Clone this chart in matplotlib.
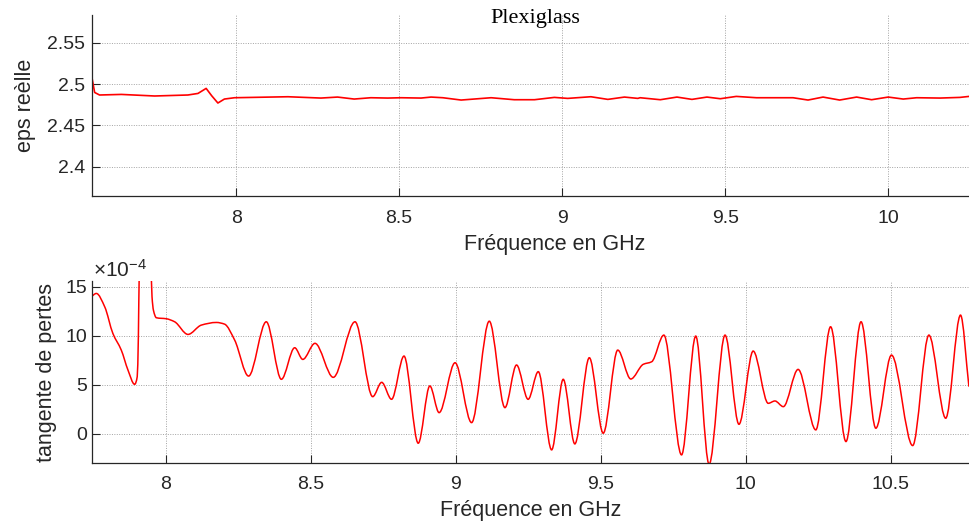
import numpy as np
import matplotlib
matplotlib.use("Agg")
import matplotlib.pyplot as plt
from matplotlib.path import Path
from matplotlib.patches import PathPatch

plt.rcParams['font.family'] = ['Liberation Sans', 'DejaVu Sans']
plt.rcParams['mathtext.fontset'] = 'custom'
plt.rcParams['mathtext.rm'] = 'Liberation Sans'
plt.rcParams['mathtext.it'] = 'Liberation Sans'

# ---------------- data ----------------
eps_freq = [7.554, 7.566, 7.581, 7.648, 7.750, 7.852, 7.883, 7.908, 7.925, 7.944,
            7.964, 7.995, 8.159, 8.260, 8.311, 8.362, 8.413, 8.465, 8.506, 8.567,
            8.598, 8.634, 8.690, 8.782, 8.853, 8.915, 8.976, 9.017, 9.088, 9.140,
            9.191, 9.232, 9.239, 9.301, 9.352, 9.398, 9.444, 9.485, 9.534, 9.596,
            9.708, 9.754, 9.800, 9.851, 9.903, 9.949, 10.000, 10.046, 10.087, 10.159,
            10.220, 10.248, 10.300, 10.400]
eps_real = [2.5160, 2.4898, 2.4867, 2.4874, 2.4855, 2.4867, 2.4886, 2.4947, 2.4858, 2.4770,
            2.4818, 2.4834, 2.4846, 2.4830, 2.4842, 2.4818, 2.4834, 2.4830, 2.4834, 2.4830,
            2.4842, 2.4834, 2.4806, 2.4834, 2.4810, 2.4810, 2.4838, 2.4826, 2.4846, 2.4814,
            2.4842, 2.4826, 2.4834, 2.4810, 2.4842, 2.4814, 2.4842, 2.4822, 2.4850, 2.4834,
            2.4834, 2.4806, 2.4842, 2.4806, 2.4842, 2.4810, 2.4842, 2.4818, 2.4834, 2.4830,
            2.4838, 2.4850, 2.4845, 2.4848]

tan_freq = [7.743, 7.761, 7.790, 7.818, 7.847, 7.870, 7.893, 7.902, 7.906, 7.909,
            7.930, 7.950, 7.953, 7.958, 7.968, 8.002, 8.031, 8.077, 8.123, 8.175,
            8.203, 8.238, 8.286, 8.347, 8.399, 8.445, 8.473, 8.515, 8.578, 8.653,
            8.714, 8.745, 8.779, 8.822, 8.871, 8.911, 8.943, 8.998, 9.055, 9.116,
            9.170, 9.210, 9.250, 9.285, 9.331, 9.371, 9.411, 9.461, 9.509, 9.559,
            9.604, 9.647, 9.676, 9.718, 9.779, 9.828, 9.874, 9.929, 9.977, 10.026,
            10.078, 10.101, 10.130, 10.181, 10.242, 10.293, 10.346, 10.398, 10.449, 10.503,
            10.576, 10.632, 10.690, 10.741, 10.770]
tan_loss = [13.98, 14.33, 12.96, 10.25, 8.55, 6.52, 5.06, 5.84, 10.0, 16.5,
            24.0, 16.5, 14.0, 12.6, 11.85, 11.75, 11.44, 10.15, 11.10, 11.37,
            11.20, 9.57, 5.90, 11.44, 5.57, 8.79, 7.60, 9.24, 5.77, 11.44,
            3.80, 5.26, 3.53, 7.94, -0.95, 4.89, 2.17, 7.26, 1.15, 11.50,
            2.68, 7.03, 3.53, 6.35, -1.63, 5.57, -1.02, 7.77, 0.07, 8.55,
            5.60, 7.10, 7.36, 10.08, -2.14, 9.98, -3.10, 10.08, 0.98, 8.45,
            3.12, 3.36, 2.78, 6.58, 0.41, 10.93, -0.78, 11.44, 0.58, 8.04,
            -1.19, 10.08, 1.60, 12.12, 4.82]

top_xticks = [8, 8.5, 9, 9.5, 10]
top_xticklabels = ['8', '8.5', '9', '9.5', '10']
top_yticks = [2.4, 2.45, 2.5, 2.55]
top_yticklabels = ['2.4', '2.45', '2.5', '2.55']
bot_xticks = [8, 8.5, 9, 9.5, 10, 10.5]
bot_xticklabels = ['8', '8.5', '9', '9.5', '10', '10.5']
bot_yticks = [0, 5, 10, 15]
bot_yticklabels = ['0', '5', '10', '15']

TXT = '#262626'
RED = '#ff0000'


def smooth_curve(ax, xs, ys, **kw):
    """Draw a smooth (monotone cubic Bezier) curve through the given points."""
    x = np.asarray(xs, float)
    y = np.asarray(ys, float)
    n = len(x)
    h = np.diff(x)
    d = np.diff(y) / h
    m = np.zeros(n)
    m[0] = d[0]
    m[-1] = d[-1]
    for i in range(1, n - 1):
        if d[i - 1] * d[i] <= 0:
            m[i] = 0.0
        else:
            w1 = 2 * h[i] + h[i - 1]
            w2 = h[i] + 2 * h[i - 1]
            m[i] = (w1 + w2) / (w1 / d[i - 1] + w2 / d[i])
    verts = [(x[0], y[0])]
    codes = [Path.MOVETO]
    for i in range(n - 1):
        verts += [(x[i] + h[i] / 3, y[i] + m[i] * h[i] / 3),
                  (x[i + 1] - h[i] / 3, y[i + 1] - m[i + 1] * h[i] / 3),
                  (x[i + 1], y[i + 1])]
        codes += [Path.CURVE4] * 3
    patch = PathPatch(Path(verts, codes), fill=False, **kw)
    ax.add_patch(patch)
    return patch


def style(ax):
    for s in ['top', 'right']:
        ax.spines[s].set_visible(False)
    for s in ['left', 'bottom']:
        ax.spines[s].set_color(TXT)
        ax.spines[s].set_linewidth(0.9)
    ax.grid(True, linestyle=(0, (1, 1.5)), color='#a3a3a3', linewidth=0.7)
    ax.set_axisbelow(True)
    ax.tick_params(direction='in', length=5.5, width=0.8, colors=TXT,
                   labelsize=14, top=False, right=False)


W, H = 969, 529
fig = plt.figure(figsize=(W / 100, H / 100), dpi=100)

# top axes (extends beyond the right edge of the picture)
ax1 = fig.add_axes([91.7 / W, 1 - 196 / H, (1018 - 91.7) / W, 181 / H])
style(ax1)
ax1.plot(eps_freq, eps_real, color=RED, linewidth=1.2)
ax1.set_xlim(7.557, 10.398)
ax1.set_ylim(2.3645, 2.5835)
ax1.set_xticks(top_xticks)
ax1.set_xticklabels(top_xticklabels)
ax1.set_yticks(top_yticks)
ax1.set_yticklabels(top_yticklabels)
ax1.tick_params(axis='x', pad=10)
ax1.tick_params(axis='y', pad=5)
ax1.set_xlabel('Fréquence en GHz', fontsize=15.5, color=TXT, labelpad=5)
ax1.set_ylabel('eps reèlle', fontsize=15.5, color=TXT, labelpad=8)

# bottom axes
ax2 = fig.add_axes([91.7 / W, 1 - 463.3 / H, (969.5 - 91.7) / W, 182.3 / H])
style(ax2)
smooth_curve(ax2, tan_freq, tan_loss, edgecolor=RED, linewidth=1.1)
ax2.set_xlim(7.745, 10.772)
ax2.set_ylim(-3, 15.6)
ax2.set_xticks(bot_xticks)
ax2.set_xticklabels(bot_xticklabels)
ax2.set_yticks(bot_yticks)
ax2.set_yticklabels(bot_yticklabels)
ax2.tick_params(axis='x', pad=9)
ax2.tick_params(axis='y', pad=3)
ax2.set_xlabel('Fréquence en GHz', fontsize=15.5, color=TXT, labelpad=5)
ax2.set_ylabel('tangente de pertes', fontsize=15.5, color=TXT, labelpad=6)

fig.text(93 / W, 1 - 277 / H, r'$\times10^{-4}$', fontsize=15, color=TXT,
         ha='left', va='baseline')
fig.text(535 / W, 1 - 23 / H, 'Plexiglass', fontsize=16, color='black',
         family='Liberation Serif', ha='center', va='baseline')

fig.savefig('out.png', dpi=100)
